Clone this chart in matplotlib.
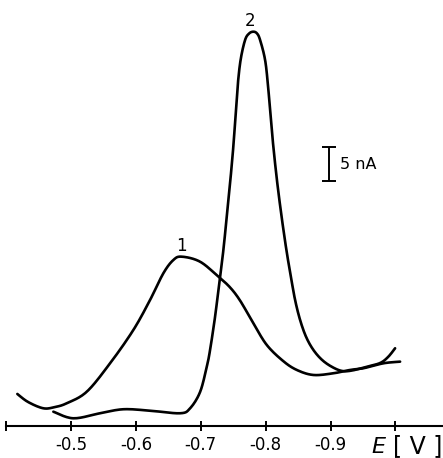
import numpy as np
import matplotlib
matplotlib.use("Agg")
import matplotlib.pyplot as plt

# ---- data (potential E in V, current I in nA, baseline = 0) ----
E_curve1 = [-0.4174, -0.4339, -0.4575, -0.4755, -0.4935, -0.5244, -0.5603, -0.5962,
            -0.6219, -0.6424, -0.6578, -0.6708, -0.6990, -0.7272, -0.7450, -0.7606,
            -0.7811, -0.8018, -0.8269, -0.8480, -0.8736, -0.9044, -0.9302, -0.9507,
            -0.9815, -1.0072]
I_curve1 = [4.71, 3.53, 2.60, 2.79, 3.34, 5.04, 9.22, 14.12,
            18.53, 22.46, 24.41, 24.90, 24.16, 21.96, 20.40, 18.45,
            15.10, 11.91, 9.56, 8.24, 7.50, 7.75, 8.24, 8.49,
            9.22, 9.46]

E_curve2 = [-0.4729, -0.5037, -0.5449, -0.5808, -0.6219, -0.6682, -0.6836, -0.6990,
            -0.7093, -0.7144, -0.7221, -0.7272, -0.7298, -0.7349, -0.7401, -0.7452,
            -0.7498, -0.7532, -0.7568, -0.7614, -0.7683, -0.7745, -0.7811, -0.7868,
            -0.7915, -0.7992, -0.8038, -0.8081, -0.8124, -0.8180, -0.8246, -0.8320,
            -0.8389, -0.8454, -0.8531, -0.8624, -0.8736, -0.8870, -0.9024, -0.9178,
            -0.9333, -0.9559, -0.9764, -0.9887, -0.9995]
I_curve2 = [2.10, 1.13, 1.87, 2.46, 2.25, 1.87, 2.60, 5.00,
            8.72, 11.18, 16.07, 20.00, 21.91, 25.88, 30.78, 35.69,
            40.59, 45.00, 49.90, 53.82, 56.76, 57.72, 57.99, 57.72,
            56.76, 53.82, 49.90, 45.00, 40.59, 35.69, 30.78, 25.88,
            21.96, 18.53, 15.59, 13.09, 11.18, 9.71, 8.68, 8.09,
            8.16, 8.72, 9.26, 10.15, 11.43]

tick_values = [-0.4, -0.5, -0.6, -0.7, -0.8, -0.9, -1.0]
tick_labels = ["", "-0.5", "-0.6", "-0.7", "-0.8", "-0.9", ""]

curve_labels = ["1", "2"]
label_pos = [(-0.6708, 26.4), (-0.776, 59.6)]

scale_E = -0.8978
scale_I = (36.0, 41.0)
scale_text = "5 nA"

# ---- figure ----
fig = plt.figure(figsize=(4.43, 4.58), dpi=100)
ax = fig.add_axes([0, 0, 1, 1])
ax.set_xlim(-0.3907, -1.0733)
ax.set_ylim(-4.71, 62.65)


def smooth(xs, ys, n=14):
    """Catmull-Rom through the points, computed in display space."""
    pts = ax.transData.transform(np.column_stack([xs, ys]))
    P = np.vstack([pts[0], pts, pts[-1]])
    out = []
    t = np.linspace(0, 1, n, endpoint=False)[:, None]
    for i in range(1, len(P) - 2):
        p0, p1, p2, p3 = P[i - 1], P[i], P[i + 1], P[i + 2]
        seg = 0.5 * (2 * p1 + (-p0 + p2) * t + (2 * p0 - 5 * p1 + 4 * p2 - p3) * t ** 2
                     + (-p0 + 3 * p1 - 3 * p2 + p3) * t ** 3)
        out.append(seg)
    out.append(P[-2][None, :])
    out = np.vstack(out)
    d = ax.transData.inverted().transform(out)
    return d[:, 0], d[:, 1]


for E, I in [(E_curve1, I_curve1), (E_curve2, I_curve2)]:
    sx, sy = smooth(E, I)
    ax.plot(sx, sy, color="black", lw=1.9, solid_capstyle="round")

for lab, (x, y) in zip(curve_labels, label_pos):
    ax.text(x, y, lab, ha="center", va="center", fontsize=12, color="black")

# scale bar
ax.errorbar([scale_E], [np.mean(scale_I)], yerr=[(scale_I[1] - scale_I[0]) / 2],
            fmt="none", ecolor="black", elinewidth=1.4, capsize=5, capthick=1.4)
ax.text(-0.9148, np.mean(scale_I), scale_text, ha="left", va="center", fontsize=11.5)

# axis
for s in ["top", "left", "right"]:
    ax.spines[s].set_visible(False)
ax.spines["bottom"].set_position(("data", 0))
ax.spines["bottom"].set_bounds(-0.4, -1.0733)
ax.spines["bottom"].set_linewidth(1.5)
ax.set_yticks([])
ax.set_xticks(tick_values)
ax.set_xticklabels(tick_labels)
ax.tick_params(axis="x", direction="inout", length=7.5, width=1.4, labelsize=12, pad=3.5)

ax.text(-0.9733, -3.1, "E", ha="center", va="center", fontsize=16, style="italic")
ax.text(-1.035, -3.0, "[ V ]", ha="center", va="center", fontsize=17)

fig.savefig("out.png", dpi=100)
